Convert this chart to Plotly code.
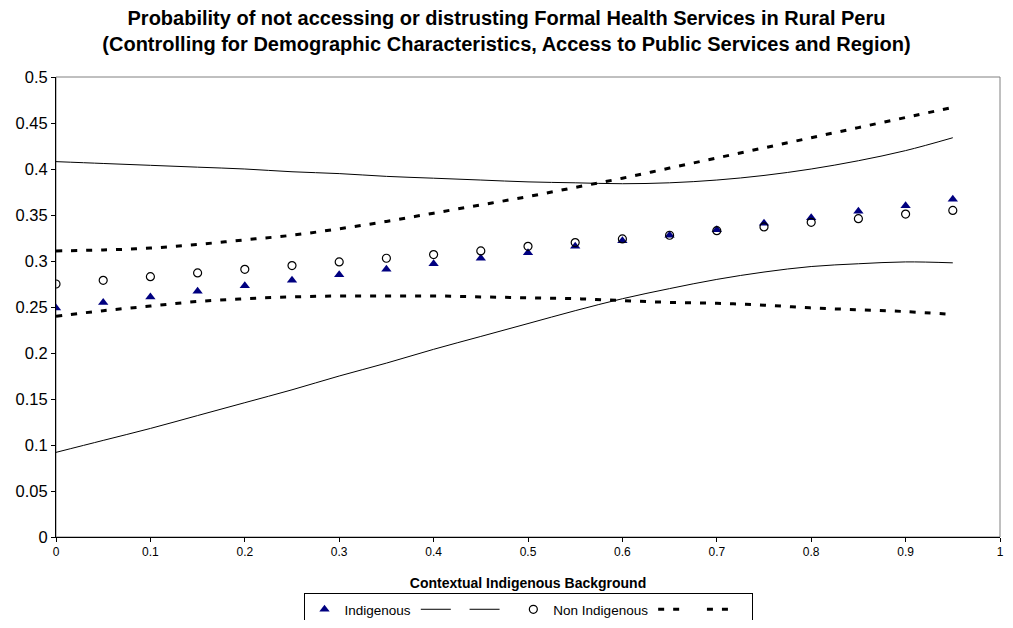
import plotly.graph_objects as go

x_vals = [0, 0.05, 0.1, 0.15, 0.2, 0.25, 0.3, 0.35, 0.4, 0.45, 0.5,
          0.55, 0.6, 0.65, 0.7, 0.75, 0.8, 0.85, 0.9, 0.95]

indigenous = [0.249, 0.255, 0.261, 0.267, 0.273, 0.279, 0.285, 0.291, 0.297, 0.303,
              0.309, 0.316, 0.322, 0.328, 0.334, 0.341, 0.347, 0.354, 0.360, 0.367]
indigenous_upper = [0.408, 0.406, 0.404, 0.402, 0.400, 0.397, 0.395, 0.392, 0.390, 0.388,
                    0.386, 0.385, 0.384, 0.385, 0.388, 0.393, 0.400, 0.409, 0.420, 0.434]
indigenous_lower = [0.092, 0.105, 0.118, 0.132, 0.146, 0.160, 0.175, 0.189, 0.204, 0.218,
                    0.232, 0.246, 0.259, 0.270, 0.280, 0.288, 0.294, 0.297, 0.299, 0.298]

non_indigenous = [0.275, 0.279, 0.283, 0.287, 0.291, 0.295, 0.299, 0.303, 0.307, 0.311,
                  0.316, 0.320, 0.324, 0.328, 0.333, 0.337, 0.342, 0.346, 0.351, 0.355]
non_indigenous_upper = [0.311, 0.312, 0.314, 0.318, 0.323, 0.328, 0.335, 0.343, 0.352, 0.361,
                        0.370, 0.380, 0.390, 0.401, 0.412, 0.423, 0.434, 0.445, 0.456, 0.467]
non_indigenous_lower = [0.240, 0.246, 0.251, 0.256, 0.259, 0.261, 0.262, 0.262, 0.262, 0.261,
                        0.260, 0.259, 0.257, 0.255, 0.254, 0.252, 0.249, 0.247, 0.245, 0.242]

x_ticks = [0, 0.1, 0.2, 0.3, 0.4, 0.5, 0.6, 0.7, 0.8, 0.9, 1]
x_tick_labels = ["0", "0.1", "0.2", "0.3", "0.4", "0.5", "0.6", "0.7", "0.8", "0.9", "1"]

FONT = "Arial, Liberation Sans, sans-serif"

# The page places the figure 8px from the window edges (body margin),
# so the figure is sized to the space left inside the 1013x628 window.
FIG_W, FIG_H = 997, 612

fig = go.Figure()

fig.add_trace(go.Scatter(x=x_vals, y=indigenous, mode="markers", name="Indigenous",
                         marker=dict(symbol="triangle-up", size=9, color="#000080")))
fig.add_trace(go.Scatter(x=x_vals, y=indigenous_upper, mode="lines", name=" ",
                         line=dict(color="black", width=1, shape="spline")))
fig.add_trace(go.Scatter(x=x_vals, y=indigenous_lower, mode="lines", name=" ",
                         line=dict(color="black", width=1, shape="spline")))
fig.add_trace(go.Scatter(x=x_vals, y=non_indigenous, mode="markers", name="Non Indigenous",
                         marker=dict(symbol="circle-open", size=8, color="black",
                                     line=dict(width=1.2, color="black"))))
fig.add_trace(go.Scatter(x=x_vals, y=non_indigenous_upper, mode="lines", name=" ",
                         line=dict(color="black", width=3, dash="6px,9px", shape="spline")))
fig.add_trace(go.Scatter(x=x_vals, y=non_indigenous_lower, mode="lines", name=" ",
                         line=dict(color="black", width=3, dash="6px,9px", shape="spline")))

fig.add_shape(type="rect", xref="x domain", yref="y domain", x0=0, x1=1, y0=0, y1=1,
              line=dict(color="#808080", width=1), layer="below")

fig.update_layout(
    width=FIG_W, height=FIG_H,
    margin=dict(l=48, r=5, t=69, b=83, autoexpand=False),
    paper_bgcolor="white", plot_bgcolor="white",
    font=dict(family=FONT, color="black"),
    title=dict(
        text="<b>Probability of not accessing or distrusting Formal Health Services in Rural Peru<br>"
             "(Controlling for Demographic Characteristics, Access to Public Services and Region)</b>",
        x=0.5, xanchor="center", xref="container",
        y=1 - 17 / FIG_H, yref="container", yanchor="top",
        font=dict(size=20, family=FONT, color="black"),
    ),
    showlegend=True,
    legend=dict(
        orientation="h", x=0.5, xanchor="center", xref="paper",
        y=1 - 585 / FIG_H, yref="container", yanchor="top",
        bordercolor="black", borderwidth=1, bgcolor="white",
        font=dict(size=13.5, family=FONT),
    ),
)

fig.update_xaxes(
    range=[0, 1], tickmode="array", tickvals=x_ticks, ticktext=x_tick_labels,
    showgrid=False, zeroline=False,
    showline=True, linecolor="black", linewidth=1, automargin=False,
    ticks="outside", ticklen=4, tickcolor="black",
    tickfont=dict(size=12, family=FONT),
    title=dict(text="<b>Contextual Indigenous Background</b>",
               font=dict(size=14, family=FONT), standoff=19),
)
fig.update_yaxes(
    range=[0, 0.5], tick0=0, dtick=0.05, showgrid=False, zeroline=False,
    showline=True, linecolor="black", linewidth=1, automargin=False,
    ticks="outside", ticklen=4, tickcolor="black",
    tickfont=dict(size=16.5, family=FONT),
)

fig.write_html("out.html")
